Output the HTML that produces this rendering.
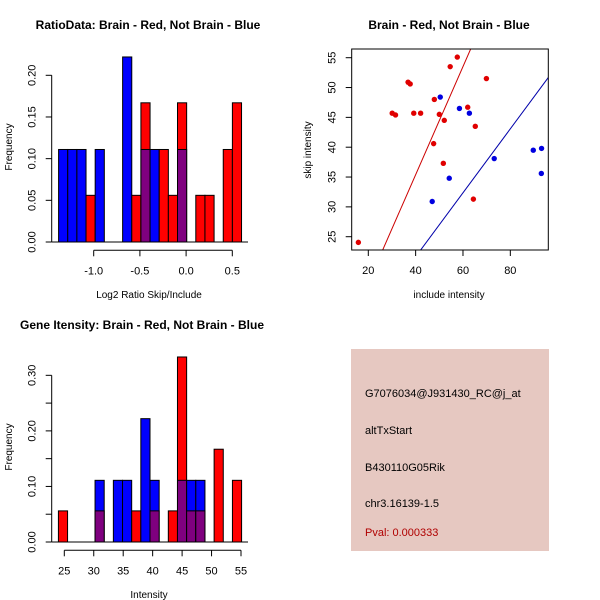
<!DOCTYPE html>
<html><head><meta charset="utf-8"><style>
html,body{margin:0;padding:0;background:#fff}
svg{display:block;font-family:"Liberation Sans","DejaVu Sans",sans-serif}
</style></head><body>
<svg id="s" width="600" height="600" viewBox="0 0 600 600" xmlns="http://www.w3.org/2000/svg">
<rect width="600" height="600" fill="#fff"/>
<rect x="351" y="349" width="198" height="202" fill="#e6c8c1"/>
<g font-size="11" fill="#000">
<text x="365" y="397">G7076034@J931430_RC@j_at</text>
<text x="365" y="434">altTxStart</text>
<text x="365" y="471">B430110G05Rik</text>
<text x="365" y="507">chr3.16139-1.5</text>
<text x="365" y="536" fill="#b00000">Pval: 0.000333</text>
</g>
</svg>
<script>
// Histogram 1 (log2 ratio)
const h1Start=-1.38, h1Width=0.099;
const h1Blue=[0.111,0.111,0.111,0,0.111,0,0,0.222,0,0.111,0.111,0,0,0.111,0,0,0,0,0,0];
const h1Red=[0,0,0,0.056,0,0,0,0,0.056,0.167,0,0.111,0.056,0.167,0,0.056,0.056,0,0.111,0.167];
const h1XTicks=[-1.0,-0.5,0.0,0.5];
const h1XLabels=["-1.0","-0.5","0.0","0.5"];
const h1YTicks=[0,0.05,0.10,0.15,0.20];
const h1YLabels=["0.00","0.05","0.10","0.15","0.20"];
// Histogram 2 (intensity)
const h2Start=24, h2Width=1.555;
const h2Blue=[0,0,0,0,0.111,0,0.111,0.111,0,0.222,0.111,0,0,0.111,0.111,0.111,0,0,0,0];
const h2Red=[0.056,0,0,0,0.056,0,0,0,0.056,0,0.056,0,0.056,0.333,0.056,0.056,0,0.167,0,0.111];
const h2XTicks=[25,30,35,40,45,50,55];
const h2YTicks=[0,0.05,0.10,0.15,0.20,0.25,0.30];
const h2YLabels=["0.00","","0.10","","0.20","","0.30"];
// Scatter
const redX=[15.8,30.1,31.5,36.8,37.7,39.2,42.1,47.6,47.9,50.0,51.7,52.1,54.6,57.6,62.0,65.2,64.4,69.9];
const redY=[24.05,45.7,45.4,50.9,50.6,45.7,45.7,40.6,48.0,45.5,37.3,44.5,53.5,55.1,46.7,43.5,31.3,51.5];
const blueX=[50.4,58.5,62.7,54.2,47.0,73.2,89.7,93.2,93.1];
const blueY=[48.4,46.5,45.7,34.8,30.9,38.1,39.5,39.8,35.6];
const redLine=[-0.85,0.906]; // intercept, slope
const blueLine=[0.2,0.536];
const scXTicks=[20,40,60,80];
const scYTicks=[25,30,35,40,45,50,55];

const NS="http://www.w3.org/2000/svg";
const svg=document.getElementById('s');
function el(tag,attrs,parent){const e=document.createElementNS(NS,tag);for(const k in attrs)e.setAttribute(k,attrs[k]);(parent||svg).appendChild(e);return e;}
function txt(x,y,s,attrs,parent){const e=el('text',Object.assign({x:x,y:y},attrs||{}),parent);e.textContent=s;return e;}

function hist(cfg){
  const g=el('g',{});
  
  
  const sx=v=>cfg.x0px+(v-cfg.x0)*cfg.xs;
  const sy=v=>cfg.base-v*cfg.ys;
  for(let i=0;i<cfg.blue.length;i++){
    const b=cfg.blue[i], r=cfg.red[i];
    const x1=sx(cfg.start+i*cfg.width), x2=sx(cfg.start+(i+1)*cfg.width);
    const mx=Math.max(b,r), mn=Math.min(b,r);
    if(mx>0){
      const rc=el('rect',{x:x1,y:sy(mx),width:x2-x1,height:sy(0)-sy(mx),fill:b>=r?'#0000ff':'#ff0000',stroke:'#000','stroke-width':1},g);
      
      
    }
    if(mn>0){
      const rc=el('rect',{x:x1,y:sy(mn),width:x2-x1,height:sy(0)-sy(mn),fill:'#7f007f',stroke:'#000','stroke-width':1},g);
      
      
    }
  }
  el('line',{x1:cfg.yAxisX,y1:cfg.base,x2:cfg.plotRight,y2:cfg.base,stroke:'#000'},g);
  const ya=el('g',{},g);
  
  
  el('line',{x1:cfg.yAxisX,y1:sy(cfg.yTicks[0]),x2:cfg.yAxisX,y2:sy(cfg.yTicks[cfg.yTicks.length-1]),stroke:'#000'},ya);
  cfg.yTicks.forEach((t,i)=>{
    el('line',{x1:cfg.yAxisX-6,y1:sy(t),x2:cfg.yAxisX,y2:sy(t),stroke:'#000'},ya);
    if(cfg.yLabels[i]) txt(cfg.yAxisX-20,sy(t),cfg.yLabels[i],{'font-size':11,'text-anchor':'middle',transform:`rotate(-90 ${cfg.yAxisX-20} ${sy(t)})`,dy:'0.35em'},ya);
  });
  const xa=el('g',{},g);
  
  
  el('line',{x1:sx(cfg.xTicks[0]),y1:cfg.axisY,x2:sx(cfg.xTicks[cfg.xTicks.length-1]),y2:cfg.axisY,stroke:'#000'},xa);
  cfg.xTicks.forEach((t,i)=>{
    el('line',{x1:sx(t),y1:cfg.axisY,x2:sx(t),y2:cfg.axisY+6,stroke:'#000'},xa);
    txt(sx(t),cfg.axisY+24,cfg.xLabels[i],{'font-size':11,'text-anchor':'middle'},xa);
  });
  const tt=txt(cfg.titleX,cfg.titleY,cfg.title,{'font-size':12,'font-weight':'bold','text-anchor':'middle'});
  
  
  const xl=txt(149,cfg.xlabY,cfg.xlab,{'font-size':10,'text-anchor':'middle'});
  
  
  const yl=txt(12,cfg.ylabCY,'Frequency',{'font-size':10,'text-anchor':'middle',transform:`rotate(-90 12 ${cfg.ylabCY})`});
  
  
}
hist({name:'ratio-histogram',start:h1Start,width:h1Width,blue:h1Blue,red:h1Red,x0:-1.0,x0px:93.7,xs:92.4,base:242,ys:833.5,
  yAxisX:51.7,plotRight:248,axisY:250.3,xTicks:h1XTicks,xLabels:h1XLabels,yTicks:h1YTicks,yLabels:h1YLabels,
  title:'RatioData: Brain - Red, Not Brain - Blue',titleX:148,titleY:29,xlab:'Log2 Ratio Skip/Include',xlabY:298,ylabCY:147});
hist({name:'intensity-histogram',start:h2Start,width:h2Width,blue:h2Blue,red:h2Red,x0:25,x0px:64.3,xs:5.89,base:542,ys:555.6,
  yAxisX:51.7,plotRight:248,axisY:550.3,xTicks:h2XTicks,xLabels:h2XTicks.map(String),yTicks:h2YTicks,yLabels:h2YLabels,
  title:'Gene Itensity: Brain - Red, Not Brain - Blue',titleX:142,titleY:329,xlab:'Intensity',xlabY:598,ylabCY:447});

// Scatter
(function(){
  const L=351.7,R=548.3,T=49,B=250;
  const sx=v=>368.3+(v-20)*2.367;
  const sy=v=>57.7+(55-v)*5.967;
  const g=el('g',{});
  
  
  const cp=el('clipPath',{id:'cp'},g);
  el('rect',{x:L,y:T,width:R-L,height:B-T},cp);
  const lines=el('g',{'clip-path':'url(#cp)'},g);
  [[redLine,'#cc0000','red-fit-line'],[blueLine,'#0000aa','blue-fit-line']].forEach(([ln,c,n])=>{
    const l=el('line',{x1:sx(0),y1:sy(ln[0]),x2:sx(120),y2:sy(ln[0]+ln[1]*120),stroke:c,'stroke-width':1},lines);
    
    
  });
  redX.forEach((x,i)=>{const c=el('circle',{cx:sx(x),cy:sy(redY[i]),r:2.7,fill:'#e00000'},g);
    
    });
  blueX.forEach((x,i)=>{const c=el('circle',{cx:sx(x),cy:sy(blueY[i]),r:2.7,fill:'#0000e0'},g);
    
    });
  const box=el('rect',{x:L,y:T,width:R-L,height:B-T,fill:'none',stroke:'#000'},g);
  
  
  scXTicks.forEach(t=>{el('line',{x1:sx(t),y1:B,x2:sx(t),y2:B+6,stroke:'#000'},g);txt(sx(t),B+24,String(t),{'font-size':11,'text-anchor':'middle'},g);});
  scYTicks.forEach(t=>{el('line',{x1:L-6,y1:sy(t),x2:L,y2:sy(t),stroke:'#000'},g);txt(L-20,sy(t),String(t),{'font-size':11,'text-anchor':'middle',dy:'0.35em',transform:`rotate(-90 ${L-20} ${sy(t)})`},g);});
  const tt=txt(449,29,'Brain - Red, Not Brain - Blue',{'font-size':12,'font-weight':'bold','text-anchor':'middle'});
  
  
  const xl=txt(449,298,'include intensity',{'font-size':10,'text-anchor':'middle'});
  
  
  const yl=txt(311,150,'skip intensity',{'font-size':10,'text-anchor':'middle',transform:'rotate(-90 311 150)'});
  
  
})();
</script>
</body></html>
